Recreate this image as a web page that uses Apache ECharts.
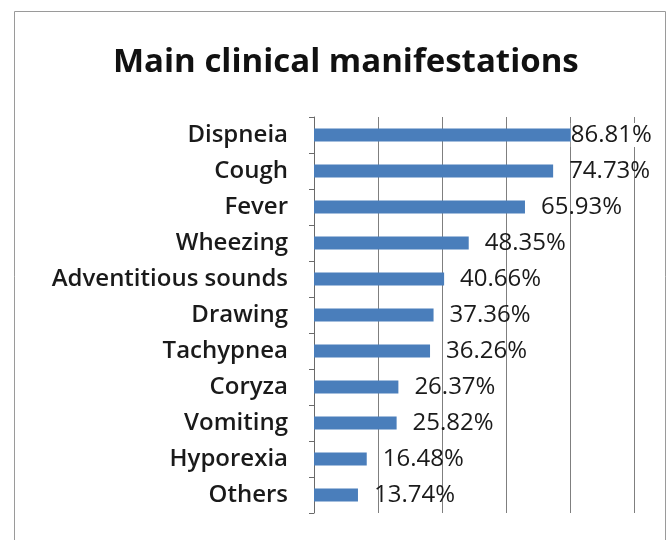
<!DOCTYPE html>
<html>
<head>
<meta charset="utf-8">
<script src="https://cdn.jsdelivr.net/npm/echarts@6/dist/echarts.min.js"></script>
<style>
  html, body { margin: 0; padding: 0; background: #fff; }
  #chart { width: 670px; height: 540px; }
</style>
</head>
<body>
<div id="chart"></div>
<script>
  // data
  var categories = ['Dispneia', 'Cough', 'Fever', 'Wheezing', 'Adventitious sounds', 'Drawing',
    'Tachypnea', 'Coryza', 'Vomiting', 'Hyporexia', 'Others']
  var percents = [86.81, 74.73, 65.93, 48.35, 40.66, 37.36, 36.26, 26.37, 25.82, 16.48, 13.74]
  var xTicks = [0, 20, 40, 60, 80, 100]

  var myChart = echarts.init(document.getElementById('chart'))

  // the first label sits back over its bar, like in the original
  var barData = percents.map(function (v, i) {
    if (i === 0) {
      return {
        value: v,
        label: {offset: [-37, 0], backgroundColor: '#ffffff', padding: [0, 0, 0, 0]}
      }
    }
    return v
  })

  var option = {
    animation: false,
    backgroundColor: '#ffffff',
    title: {
      text: 'Main clinical manifestations',
      left: 108,
      top: 41,
      textStyle: {
        fontFamily: 'Open Sans',
        fontSize: 33,
        fontWeight: 'bold',
        color: '#111'
      }
    },
    graphic: [{
      type: 'rect',
      shape: {x: 14.5, y: 11.5, width: 651, height: 560},
      style: {fill: 'none', stroke: '#9a9a9a', lineWidth: 1},
      silent: true
    }],
    grid: {
      left: 314,
      right: 36,
      top: 117,
      bottom: 27
    },
    xAxis: {
      type: 'value',
      min: xTicks[0],
      max: xTicks[xTicks.length - 1],
      interval: 20,
      axisLine: {show: false},
      axisTick: {show: false},
      axisLabel: {show: false},
      splitLine: {
        show: true,
        lineStyle: {color: '#7f7f7f', width: 1}
      }
    },
    yAxis: {
      type: 'category',
      inverse: true,
      data: categories,
      axisLine: {
        show: true,
        lineStyle: {color: '#6a6a6a', width: 1}
      },
      axisTick: {
        show: true,
        length: 5,
        lineStyle: {color: '#6a6a6a'}
      },
      axisLabel: {
        margin: 26,
        fontFamily: 'Open Sans',
        fontSize: 24,
        fontWeight: 600,
        color: '#1a1a1a'
      }
    },
    series: [{
      type: 'bar',
      data: barData,
      barWidth: 13,
      itemStyle: {color: '#4a7ebb'},
      label: {
        show: true,
        position: 'right',
        distance: 16,
        fontFamily: 'Open Sans',
        fontSize: 24,
        fontWeight: 500,
        color: '#1a1a1a',
        formatter: function (p) {
          return p.value.toFixed(2) + '%'
        }
      }
    }]
  }
  myChart.setOption(option)
</script>
</body>
</html>
